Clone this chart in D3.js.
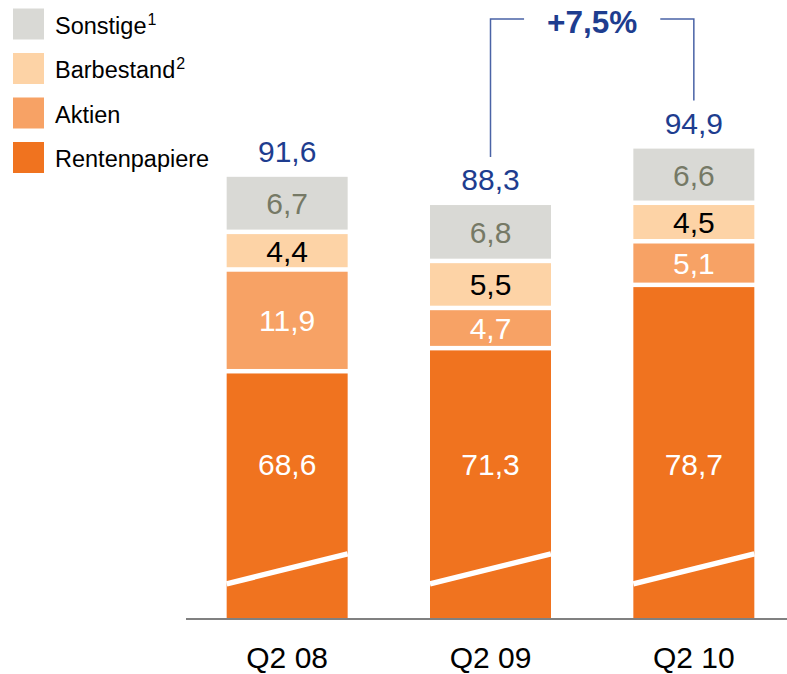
<!DOCTYPE html>
<html>
<head>
<meta charset="utf-8">
<script src="https://cdn.jsdelivr.net/npm/d3@7"></script>
<style>
  html, body { margin: 0; padding: 0; background: #fff; }
  svg { display: block; font-family: "Liberation Sans", Arial, sans-serif; }
</style>
</head>
<body>
<div id="chart"></div>
<script>
// Datos
const categorias = ["Q2 08", "Q2 09", "Q2 10"];
const rentenpapiere = [68.6, 71.3, 78.7];
const aktien = [11.9, 4.7, 5.1];
const barbestand = [4.4, 5.5, 4.5];
const sonstige = [6.7, 6.8, 6.6];
const totales = [91.6, 88.3, 94.9];
const crecimiento = "+7,5%";

const serieKeys = ["rentenpapiere", "aktien", "barbestand", "sonstige"];
const serieNombres = { sonstige: "Sonstige", barbestand: "Barbestand", aktien: "Aktien", rentenpapiere: "Rentenpapiere" };
const serieSup = { sonstige: "1", barbestand: "2", aktien: "", rentenpapiere: "" };
const leyendaOrden = ["sonstige", "barbestand", "aktien", "rentenpapiere"];

// el eje esta cortado: la barra parte en 40
const CORTE = 40;
const CORTE_LINEA = [44.0, 47.5];   // linea blanca diagonal (izq, der)
const RENTEN_LABEL = 58;            // donde va la etiqueta de la barra grande

const WIDTH = 787;
const HEIGHT = 674;

const color = d3.scaleOrdinal().domain(serieKeys).range(["#F0731F", "#F7A265", "#FDD3A6", "#D9D9D5"]);
const colorTexto = d3.scaleOrdinal().domain(serieKeys).range(["#ffffff", "#ffffff", "#000000", "#767966"]);
const AZUL = "#1E3D8F";

const fmt = d3.formatLocale({ decimal: ",", thousands: ".", grouping: [3], currency: ["", "€"] }).format(".1f");

const filas = categorias.map((c, i) => ({
  cat: c,
  rentenpapiere: rentenpapiere[i] - CORTE,
  aktien: aktien[i],
  barbestand: barbestand[i],
  sonstige: sonstige[i],
  real: { rentenpapiere: rentenpapiere[i], aktien: aktien[i], barbestand: barbestand[i], sonstige: sonstige[i] },
  total: totales[i]
}));

const SVG = d3.select("#chart").append("svg").attr("width", WIDTH).attr("height", HEIGHT);

// Escalas
const x = d3.scaleBand().domain(categorias).range([186, 795]).paddingInner(0.405).paddingOuter(0.2);
const y = d3.scaleLinear().domain([CORTE, 100]).range([618, 105]);

const stack = d3.stack().keys(serieKeys)(filas);
const GAP = 4.5;

const capas = SVG.append("g").selectAll("g").data(stack).join("g").attr("fill", d => color(d.key));

capas.selectAll("rect").data(d => d.map(p => ({ key: d.key, p }))).join("rect")
  .attr("x", d => x(d.p.data.cat))
  .attr("width", x.bandwidth())
  .attr("y", d => y(d.p[1] + CORTE))
  .attr("height", d => (y(d.p[0] + CORTE) - (d.key === "rentenpapiere" ? 0 : GAP)) - y(d.p[1] + CORTE));

// linea de corte
SVG.append("g").selectAll("line").data(filas).join("line")
  .attr("x1", d => x(d.cat)).attr("x2", d => x(d.cat) + x.bandwidth())
  .attr("y1", y(CORTE_LINEA[0])).attr("y2", y(CORTE_LINEA[1]))
  .attr("stroke", "#fff").attr("stroke-width", 5.5);

// etiquetas dentro de las barras
capas.selectAll("text").data(d => d.map(p => ({ key: d.key, p }))).join("text")
  .attr("x", d => x(d.p.data.cat) + x.bandwidth() / 2)
  .attr("y", d => {
    if (d.key === "rentenpapiere") return y(RENTEN_LABEL) + 11;
    return (y(d.p[1] + CORTE) + y(d.p[0] + CORTE) - GAP) / 2 + 11;
  })
  .attr("text-anchor", "middle")
  .attr("font-size", "30px")
  .attr("fill", d => colorTexto(d.key))
  .text(d => fmt(d.p.data.real[d.key]));

// totales
SVG.append("g").selectAll("text").data(filas).join("text")
  .attr("x", d => x(d.cat) + x.bandwidth() / 2)
  .attr("y", d => y(d.total) - 15)
  .attr("text-anchor", "middle")
  .attr("font-size", "30px")
  .attr("fill", AZUL)
  .text(d => fmt(d.total));

// eje x
SVG.append("line").attr("x1", 186).attr("x2", WIDTH).attr("y1", 619).attr("y2", 619)
  .attr("stroke", "#808080").attr("stroke-width", 2);

SVG.append("g").selectAll("text").data(categorias).join("text")
  .attr("x", d => x(d) + x.bandwidth() / 2)
  .attr("y", 668)
  .attr("text-anchor", "middle")
  .attr("font-size", "30px")
  .attr("fill", "#000")
  .text(d => d);

// corchete +7,5%
const cx2 = x(categorias[1]) + x.bandwidth() / 2;
const cx3 = x(categorias[2]) + x.bandwidth() / 2;
const mid = (cx2 + cx3) / 2;
const topY = 19;
const txt = SVG.append("text").attr("x", mid).attr("y", 33).attr("text-anchor", "middle")
  .attr("font-size", "31.5px").attr("font-weight", "bold").attr("fill", AZUL).text(crecimiento);
const bb = txt.node().getBBox();

const corchete = d3.path();
corchete.moveTo(cx2, y(totales[1]) - 48);
corchete.lineTo(cx2, topY);
corchete.lineTo(bb.x - 23, topY);
corchete.moveTo(bb.x + bb.width + 23, topY);
corchete.lineTo(cx3, topY);
corchete.lineTo(cx3, y(totales[2]) - 48);
SVG.append("path").attr("d", corchete.toString()).attr("fill", "none")
  .attr("stroke", "#4A63A6").attr("stroke-width", 1.5);

// leyenda
const ley = SVG.append("g").selectAll("g").data(leyendaOrden).join("g")
  .attr("transform", (d, i) => `translate(13, ${8.5 + i * 44.5})`);
ley.append("rect").attr("width", 31).attr("height", 31).attr("fill", d => color(d));
const lt = ley.append("text").attr("x", 42).attr("y", 25).attr("font-size", "23.5px").attr("fill", "#000");
lt.append("tspan").text(d => serieNombres[d]);
lt.append("tspan").attr("font-size", "16px").attr("dx", 1).attr("dy", -9).text(d => serieSup[d]);
</script>
</body>
</html>
